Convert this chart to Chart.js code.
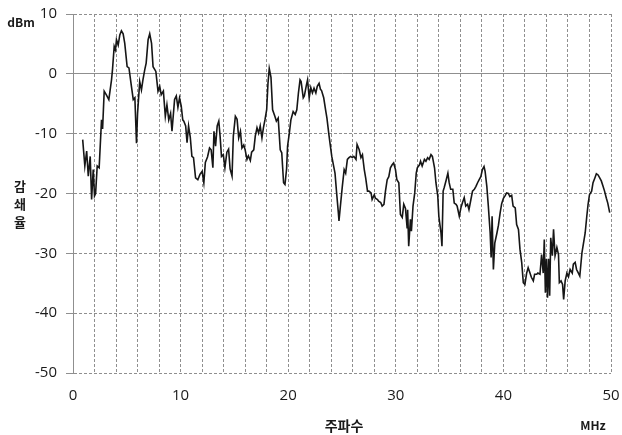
<!DOCTYPE html>
<html>
<head>
<meta charset="utf-8">
<script src="https://cdn.jsdelivr.net/npm/chart.js@4/dist/chart.umd.min.js"></script>
<style>
  html, body { margin: 0; padding: 0; background: #fff; }
  #wrap { position: relative; width: 622px; height: 435px; }
  .lbl {
    position: absolute; transform: translate(-50%, -50%);
    font-family: "Noto Sans CJK KR", "Noto Sans", sans-serif;
    font-weight: bold; color: #1a1a1a; line-height: 1; white-space: nowrap;
  }
</style>
</head>
<body>
<div id="wrap">
  <canvas id="c" width="622" height="435"></canvas>
  <div class="lbl" style="left:21px;top:22px;font-size:12px">dBm</div>
  <div class="lbl" style="left:593px;top:425px;font-size:12px">MHz</div>
  <div class="lbl" style="left:344px;top:425px;font-size:14px">주파수</div>
  <div class="lbl" style="left:20px;top:204px;font-size:13px;line-height:18px;text-align:center">감<br>쇄<br>율</div>
</div>
<script>
/* ===== data ===== */
const FREQ_MHZ = [
  0.9, 1.1, 1.27, 1.42, 1.6, 1.73, 1.88, 2.0, 2.1, 2.25, 2.43, 2.65, 2.75, 2.9, 3.1, 3.33, 3.58, 3.67, 3.83, 3.95,
  4.04, 4.2, 4.35, 4.5, 4.66, 4.81, 5.03, 5.2, 5.43, 5.6, 5.75, 5.9, 6.0, 6.2, 6.36, 6.5, 6.67, 6.8, 6.98, 7.13,
  7.3, 7.44, 7.7, 7.9, 8.06, 8.2, 8.4, 8.58, 8.73, 8.9, 9.07, 9.2, 9.44, 9.6, 9.75, 9.9, 10.06, 10.2, 10.3, 10.47,
  10.6, 10.74, 10.9, 11.05, 11.2, 11.39, 11.6, 11.8, 12.0, 12.16, 12.3, 12.5, 12.69, 12.84, 13.0, 13.1, 13.25, 13.4, 13.55, 13.67,
  13.8, 13.97, 14.12, 14.3, 14.46, 14.6, 14.78, 14.9, 15.09, 15.25, 15.4, 15.56, 15.7, 15.87, 16.0, 16.17, 16.3, 16.48, 16.6, 16.8,
  16.94, 17.1, 17.25, 17.4, 17.56, 17.7, 17.84, 18.0, 18.12, 18.24, 18.4, 18.55, 18.76, 18.9, 19.07, 19.26, 19.4, 19.57, 19.7, 19.85,
  19.94, 20.1, 20.25, 20.46, 20.65, 20.8, 20.95, 21.1, 21.2, 21.4, 21.5, 21.7, 21.8, 21.95, 22.1, 22.25, 22.4, 22.57, 22.7, 22.87,
  23.0, 23.1, 23.3, 23.5, 23.6, 23.8, 23.9, 24.05, 24.2, 24.35, 24.5, 24.66, 24.72, 24.85, 25.03, 25.2, 25.34, 25.5, 25.65, 25.8,
  25.96, 26.1, 26.3, 26.4, 26.6, 26.76, 26.9, 27.07, 27.2, 27.37, 27.5, 27.7, 27.8, 28.0, 28.1, 28.3, 28.4, 28.6, 28.73, 28.9,
  29.04, 29.2, 29.35, 29.5, 29.66, 29.8, 29.97, 30.1, 30.28, 30.43, 30.6, 30.74, 30.9, 31.05, 31.1, 31.2, 31.36, 31.45, 31.6, 31.76,
  31.9, 32.0, 32.2, 32.3, 32.45, 32.66, 32.8, 32.96, 33.1, 33.27, 33.4, 33.6, 33.73, 33.9, 34.0, 34.2, 34.29, 34.4, 34.5, 34.66,
  34.84, 34.96, 35.1, 35.3, 35.43, 35.6, 35.7, 35.9, 36.05, 36.2, 36.36, 36.5, 36.67, 36.8, 36.98, 37.13, 37.3, 37.45, 37.6, 37.75,
  37.9, 38.05, 38.2, 38.3, 38.46, 38.6, 38.77, 38.86, 38.95, 39.07, 39.2, 39.4, 39.54, 39.7, 39.84, 40.0, 40.15, 40.3, 40.46, 40.6,
  40.77, 40.9, 41.1, 41.23, 41.4, 41.54, 41.7, 41.85, 42.0, 42.16, 42.3, 42.47, 42.6, 42.78, 42.9, 43.1, 43.2, 43.4, 43.55, 43.7,
  43.8, 43.9, 44.0, 44.1, 44.2, 44.3, 44.4, 44.55, 44.66, 44.8, 44.97, 45.12, 45.2, 45.36, 45.5, 45.6, 45.74, 45.9, 46.05, 46.2,
  46.4, 46.5, 46.67, 46.8, 46.97, 47.1, 47.3, 47.4, 47.6, 47.75, 47.87, 48.0, 48.2, 48.33, 48.5, 48.64, 48.8, 48.95, 49.1, 49.26,
  49.4, 49.57, 49.7, 49.88,
];
const ATTEN_DBM = [
  -11, -15.4, -12.9, -17.1, -13.8, -21, -16, -20.4, -20, -15.4, -15.7, -7.7, -9.2, -2.9, -3.5, -4.3, -1, 0.7, 4.6, 4,
  5.7, 4.8, 6.5, 7.2, 6.7, 5.1, 1.2, 1, -2.1, -4.3, -4, -11.6, -6.6, -1.3, -2.7, -1, 0.7, 1.8, 5.7, 6.7,
  5.1, 1.2, 0.4, -2.9, -2.1, -3.5, -2.9, -7.1, -5.2, -7.7, -6.6, -9.6, -4.3, -3.7, -5.6, -4.05, -5.4, -7.7, -7.9, -8.7,
  -11.5, -8.7, -10.6, -13.8, -14, -17.4, -17.7, -16.8, -16.3, -18.2, -14.8, -13.9, -12.4, -12.7, -15.7, -9.6, -12.1, -8.7, -7.9, -10.4,
  -13.8, -13.5, -15.7, -13.1, -12.6, -15.9, -17.1, -10.4, -7.1, -7.6, -10.7, -9.6, -12.4, -11.9, -12.7, -14.3, -13.7, -14.5, -13.1, -12.7,
  -10.4, -9, -9.9, -8.7, -10.7, -9, -7.7, -6, -1.6, 0.9, -0.6, -6, -7.1, -7.9, -7.4, -12.7, -13.2, -18.2, -18.5, -15.9,
  -12.1, -10, -7.7, -6.3, -6.8, -6, -3.2, -1, -1.3, -4, -3.7, -1.8, -1, -4, -2.3, -3.2, -2.4, -3.2, -2.1, -1.6,
  -2.6, -2.8, -4, -6.3, -7.4, -10.4, -11.8, -13.8, -15.2, -16.6, -19.9, -23.2, -24.6, -22.1, -18.8, -16, -16.6, -14.3, -14, -13.8,
  -14, -13.8, -14.3, -11.8, -12.7, -14, -13.5, -16, -17.4, -19.6, -19.6, -19.9, -21, -20.2, -20.8, -21, -21.3, -21.5, -22.1, -21.8,
  -19.6, -17.7, -17.2, -15.7, -15.2, -14.9, -16, -17.7, -18.2, -23.5, -24, -21.8, -22.5, -25.7, -22.7, -28.8, -24.3, -26.3, -22.1, -19.9,
  -16.6, -15.7, -15.2, -14.6, -15.4, -14.3, -14.6, -14, -14.3, -13.5, -13.8, -15.7, -18.2, -20.4, -23.8, -26.6, -28.8, -19.6, -19, -17.9,
  -16.6, -18.2, -19.3, -19.3, -21.6, -21.8, -22.1, -23.8, -22.4, -21.5, -20.7, -22.1, -21.8, -22.7, -21, -19.6, -19.3, -18.8, -18.2, -17.7,
  -17.2, -16, -15.5, -16.3, -18.8, -22.1, -26.6, -30.7, -23.8, -32.7, -28.3, -26.6, -25.3, -23.2, -21.7, -20.8, -20.4, -19.9, -20, -20.5,
  -20.3, -22.1, -22.4, -25.2, -26, -29.3, -31.5, -34.9, -35.2, -33.3, -32.4, -33.3, -34, -34.6, -33.5, -33.5, -33.3, -33.5, -30.2, -33.3,
  -27.7, -36.6, -30.9, -37.4, -30.9, -37.1, -27.4, -30.4, -26, -30.4, -29, -30.2, -34.9, -34.6, -35.2, -37.7, -34.6, -33.3, -33.9, -32.7,
  -33.3, -31.8, -31.5, -32.7, -33.3, -33.8, -29.9, -28.8, -26.6, -23.8, -21.8, -20.2, -19.6, -18.2, -17.4, -16.7, -16.9, -17.4, -17.9, -18.8,
  -19.6, -20.8, -21.6, -23.2,
];
const X_MIN = 0, X_MAX = 50, X_STEP = 2, X_LABEL_EVERY = 10;
const Y_MIN = -50, Y_MAX = 10, Y_STEP = 10;

const GRID = "#8f8f8f";
const TICK_FONT = { family: "'Open Sans', 'Noto Sans', sans-serif", size: 15 };

const points = FREQ_MHZ.map((f, i) => ({ x: f, y: ATTEN_DBM[i] }));

new Chart(document.getElementById("c"), {
  type: "line",
  data: {
    datasets: [{
      data: points,
      borderColor: "#161616",
      borderWidth: 1.6,
      pointRadius: 0,
      tension: 0,
      fill: false,
    }],
  },
  options: {
    responsive: false,
    animation: false,
    events: [],
    layout: { padding: { top: 14, right: 11, left: 0, bottom: 0 } },
    plugins: { legend: { display: false }, tooltip: { enabled: false } },
    scales: {
      x: {
        type: "linear",
        min: X_MIN, max: X_MAX,
        afterFit: (s) => { s.height = 62; s.paddingLeft = 0; s.paddingRight = 0; },
        ticks: {
          stepSize: X_STEP, autoSkip: false, maxRotation: 0, padding: 14,
          color: "#1a1a1a", font: TICK_FONT,
          // every 2 MHz gets a grid line, only every 10 MHz a label
          callback: (v) => (v % X_LABEL_EVERY === 0 ? String(v) : ""),
        },
        grid: { color: GRID, lineWidth: 1, drawTicks: false },
        border: { display: false, dash: [3, 2] },
      },
      y: {
        min: Y_MIN, max: Y_MAX,
        afterFit: (s) => { s.width = 73; s.paddingTop = 0; s.paddingBottom = 0; },
        ticks: { stepSize: Y_STEP, padding: 9, color: "#1a1a1a", font: TICK_FONT },
        grid: { color: GRID, lineWidth: 1, tickLength: 7, tickColor: GRID },
        border: {
          display: true, color: GRID, width: 1,
          dash: (ctx) => (ctx.tick && ctx.tick.value === 0 ? [] : [3, 2]),
        },
      },
    },
  },
});
</script>
</body>
</html>
